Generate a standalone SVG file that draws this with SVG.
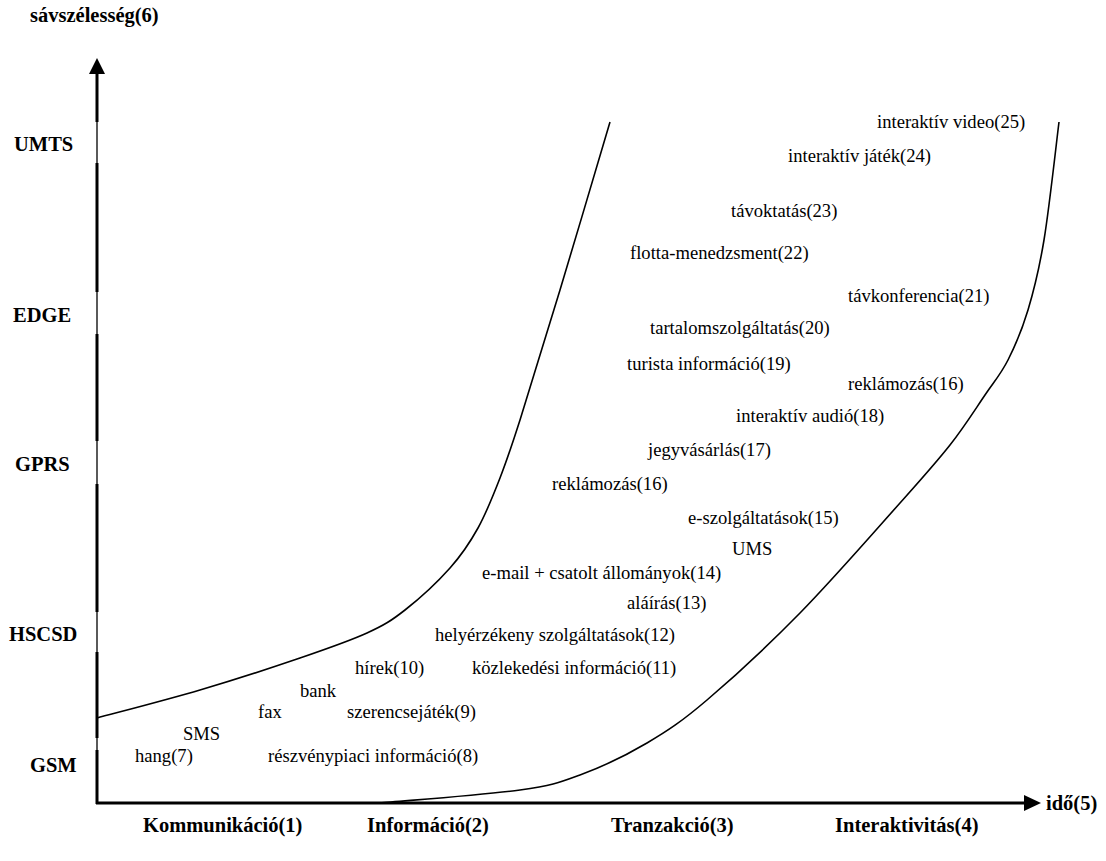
<svg xmlns="http://www.w3.org/2000/svg" width="1106" height="861" viewBox="0 0 1106 861">
<style>
.b{font-family:"Liberation Serif","Times New Roman",serif;font-weight:bold;font-size:20.5px;fill:#000}
.t{font-family:"Liberation Serif","Times New Roman",serif;font-size:18.6px;fill:#000}
.ax{stroke:#000;stroke-width:3;fill:none}
.axt{stroke:#000;stroke-width:1.3;fill:none}
.cv{stroke:#000;stroke-width:1.6;fill:none}
</style>
<rect width="1106" height="861" fill="#fff"/>
<g id="axes">
<line class="axt" x1="97" y1="70" x2="97" y2="804"/>
<path class="ax" d="M97,70V122M97,163V292M97,334V441M97,484V612M97,652V738M97,750V804"/>
<line class="ax" x1="96" y1="803" x2="1026" y2="803"/>
<polygon points="97,58 89,74 105,74" fill="#000"/>
<polygon points="1041,803 1024,795 1024,811" fill="#000"/>
</g>
<g id="connectors">
<path id="curve1" class="cv" d="M97,718 C114.2,713.3 166.2,700 200,690 C233.8,680 272.2,667.5 300,658 C327.8,648.5 349.5,641 367,633 C384.5,625 391.2,620.8 405,610 C418.8,599.2 437.8,581.7 450,568 C462.2,554.3 469.7,543 478,528 C486.3,513 493,496 500,478 C507,460 510,451.3 520,420 C530,388.7 545,339.7 560,290 C575,240.3 601.7,150 610,122"/>
<path id="curve2" class="cv" d="M380,803 C403.3,800.8 486.7,794.7 520,790 C553.3,785.3 558.8,782.8 580,775 C601.2,767.2 625.8,755.5 647,743 C668.2,730.5 681.5,721.7 707,700 C732.5,678.3 767.8,645.8 800,613 C832.2,580.2 875,531 900,503 C925,475 935.8,463 950,445 C964.2,427 975.3,409.2 985,395 C994.7,380.8 1000.8,374.2 1008,360 C1015.2,345.8 1022,330 1028,310 C1034,290 1038.8,271.3 1044,240 C1049.2,208.7 1056.5,141.7 1059,122"/>
</g>
<g id="axis-labels">
<text class="b" x="30" y="22">sávszélesség(6)</text>
<text class="b" x="1046" y="810">idő(5)</text>
<text class="b" x="14" y="151">UMTS</text>
<text class="b" x="13" y="322">EDGE</text>
<text class="b" x="15" y="471">GPRS</text>
<text class="b" x="9" y="641">HSCSD</text>
<text class="b" x="30" y="772">GSM</text>
<text class="b" x="143" y="832">Kommunikáció(1)</text>
<text class="b" x="367" y="832">Információ(2)</text>
<text class="b" x="611" y="832">Tranzakció(3)</text>
<text class="b" x="835" y="832">Interaktivitás(4)</text>
</g>
<g id="services">
<text class="t" x="877" y="128">interaktív video(25)</text>
<text class="t" x="788" y="162">interaktív játék(24)</text>
<text class="t" x="731" y="217">távoktatás(23)</text>
<text class="t" x="630" y="259">flotta-menedzsment(22)</text>
<text class="t" x="848" y="302">távkonferencia(21)</text>
<text class="t" x="650" y="334">tartalomszolgáltatás(20)</text>
<text class="t" x="627" y="370">turista információ(19)</text>
<text class="t" x="848" y="390">reklámozás(16)</text>
<text class="t" x="736" y="422">interaktív audió(18)</text>
<text class="t" x="648" y="456">jegyvásárlás(17)</text>
<text class="t" x="552" y="490">reklámozás(16)</text>
<text class="t" x="688" y="524">e-szolgáltatások(15)</text>
<text class="t" x="732" y="555">UMS</text>
<text class="t" x="482" y="579">e-mail + csatolt állományok(14)</text>
<text class="t" x="627" y="609">aláírás(13)</text>
<text class="t" x="435" y="641">helyérzékeny szolgáltatások(12)</text>
<text class="t" x="472" y="674">közlekedési információ(11)</text>
<text class="t" x="355" y="674">hírek(10)</text>
<text class="t" x="300" y="697">bank</text>
<text class="t" x="258" y="718">fax</text>
<text class="t" x="347" y="718">szerencsejáték(9)</text>
<text class="t" x="183" y="740">SMS</text>
<text class="t" x="135" y="762">hang(7)</text>
<text class="t" x="268" y="762">részvénypiaci információ(8)</text>
</g>
</svg>
